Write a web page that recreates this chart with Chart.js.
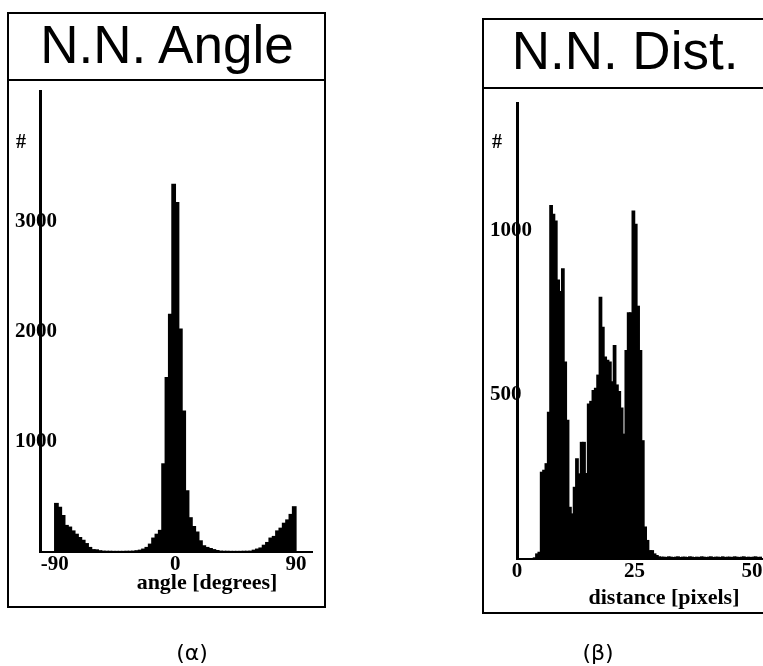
<!DOCTYPE html>
<html>
<head>
<meta charset="utf-8">
<script src="https://cdn.jsdelivr.net/npm/chart.js@4.4.1/dist/chart.umd.min.js"></script>
<style>
  body { margin: 0; width: 763px; height: 666px; overflow: hidden; background: #fff; position: relative; }
  .box { position: absolute; border: 2px solid #000; box-sizing: border-box; }
  .txt { position: absolute; transform: translate(-50%, -50%); line-height: 1; white-space: nowrap; color: #000; }
  .title { font-family: "Liberation Sans", Arial, sans-serif; font-size: 53px; }
  .serif { font-family: "Liberation Serif", "Times New Roman", serif; font-weight: bold; font-size: 22px; }
  .cap { font-family: "DejaVu Sans", sans-serif; font-size: 22px; }
  canvas { position: absolute; }
</style>
</head>
<body>
  <!-- panel (α) -->
  <div class="box" style="left:7px; top:12px; width:319px; height:69px;"></div>
  <div class="box" style="left:7px; top:79px; width:319px; height:529px;"></div>
  <div class="txt title" style="left:167px; top:44px;">N.N. Angle</div>
  <canvas id="angleChart" width="315" height="525" style="left:9px; top:81px;"></canvas>
  <div class="txt serif" style="left:21px; top:141px; font-size:20px;">#</div>
  <div class="txt serif" style="left:207px; top:582px;">angle [degrees]</div>
  <div class="txt cap" style="left:192px; top:653px;">(α)</div>

  <!-- panel (β) -->
  <div class="box" style="left:482px; top:18px; width:300px; height:71px;"></div>
  <div class="box" style="left:482px; top:87px; width:300px; height:527px;"></div>
  <div class="txt title" style="left:625px; top:50px;">N.N. Dist.</div>
  <canvas id="distChart" width="279" height="523" style="left:484px; top:89px;"></canvas>
  <div class="txt serif" style="left:497px; top:141px; font-size:20px;">#</div>
  <div class="txt serif" style="left:664px; top:597px;">distance [pixels]</div>
  <div class="txt cap" style="left:598px; top:653px;">(β)</div>

<script>
// N.N. angle histogram: 2.5 degree bins from -90 to 90
const angleStart = -90;
const angleStep = 2.5;
const angleCounts = [
  440, 405, 330, 240, 225, 190, 160, 130, 105, 75, 40, 20, 18, 10, 6,
  5, 5, 4, 4, 4, 4, 5, 5, 6,
  10, 15, 25, 40, 70, 125, 160, 195, 800, 1585, 2160, 3340,
  3175, 2025, 1280, 555, 310, 230, 180, 100, 55, 40, 30, 20, 12,
  6, 5, 5, 4, 4, 4, 4, 5, 5, 6,
  15, 25, 35, 60, 85, 125, 140, 190, 215, 260, 290, 340, 410,
];
const angleTicks = [-90, 0, 90];
const angleCountTicks = [1000, 2000, 3000];

// N.N. distance histogram: 0.5 pixel bins from 0 to 52
const distStart = 0;
const distStep = 0.5;
const distCounts = [
  0, 0, 0, 0, 0, 0, 0, 3, 15, 20,
  264, 270, 290, 447, 1077, 1050, 1030, 850, 815, 884,
  600, 422, 157, 137, 218, 305, 259, 355, 355, 260,
  472, 480, 513, 520, 560, 797, 706, 615, 605, 600,
  540, 650, 530, 510, 460, 380, 635, 750, 750, 1060,
  1020, 770, 635, 360, 97, 56, 25, 25, 15, 10,
  6, 5, 5, 4, 6, 5, 4, 5, 6, 4, 5, 5, 4, 6, 5, 4, 5, 4, 6, 5, 4, 5,
  6, 4, 5, 5, 4, 6, 4, 5, 5, 4, 6, 5, 4, 5, 6, 4, 5, 4, 5, 6, 4, 5,
];
const distTicks = [0, 25, 50];
const distCountTicks = [500, 1000];

const tickFont = { family: "'Liberation Serif', 'Times New Roman', serif", size: 21, weight: "bold" };

// bars sit at bin centres on a linear axis
function toPoints(start, step, counts) {
  return counts.map((c, i) => ({ x: start + step * (i + 0.5), y: c }));
}

function drawHistogram(id, cfg) {
  return new Chart(document.getElementById(id), {
    type: "bar",
    data: {
      datasets: [{
        data: toPoints(cfg.start, cfg.step, cfg.counts),
        backgroundColor: "#000",
        borderWidth: 0,
        inflateAmount: 0.7, // no white seams between bins
        barPercentage: 1,
        categoryPercentage: 1,
      }],
    },
    options: {
      responsive: false,
      animation: false,
      layout: { padding: cfg.padding },
      plugins: { legend: { display: false }, tooltip: { enabled: false } },
      scales: {
        x: {
          type: "linear",
          offset: false,
          min: cfg.xMin,
          max: cfg.xMax,
          grid: { display: false, drawTicks: false },
          border: { display: true, color: "#000", width: 2 },
          ticks: { color: "#000", font: tickFont, padding: 0, maxRotation: 0, autoSkip: false, callback: (v) => String(v) },
          afterBuildTicks: (s) => { s.ticks = cfg.xTicks.map((v) => ({ value: v })); },
          afterFit: (s) => { s.height = cfg.xHeight; s.paddingLeft = 0; s.paddingRight = 0; },
        },
        y: {
          min: 0,
          max: cfg.yMax,
          grid: { display: false, drawTicks: false },
          border: { display: true, color: "#000", width: 3 },
          // mirrored so the labels may run across the axis line like in the scan
          ticks: { color: "#000", font: tickFont, mirror: true, padding: cfg.yPad, autoSkip: false, callback: (v) => String(v) },
          afterBuildTicks: (s) => { s.ticks = cfg.yTicks.map((v) => ({ value: v })); },
          afterFit: (s) => { s.width = cfg.yWidth; s.paddingTop = 0; s.paddingBottom = 0; },
        },
      },
    },
  });
}

drawHistogram("angleChart", {
  start: angleStart, step: angleStep, counts: angleCounts,
  xMin: -101, xMax: 102, xTicks: angleTicks,
  yMax: 4190, yTicks: angleCountTicks,
  padding: { left: 0, right: 12, top: 10, bottom: 0 },
  xHeight: 54, yWidth: 31, yPad: -25,
});

drawHistogram("distChart", {
  start: distStart, step: distStep, counts: distCounts,
  xMin: 0, xMax: 52.1, xTicks: distTicks,
  yMax: 1390, yTicks: distCountTicks,
  padding: { left: 0, right: 1, top: 14, bottom: 0 },
  xHeight: 53, yWidth: 33, yPad: -27,
});
</script>
</body>
</html>
